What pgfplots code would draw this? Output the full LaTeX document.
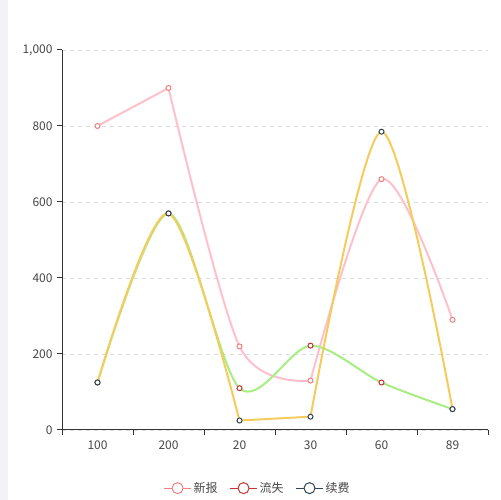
\documentclass[border=0pt]{standalone}
\usepackage{pgfplots}
\pgfplotsset{compat=1.18}
\usepackage{fontspec}
\setmainfont{Noto Sans CJK SC}
\definecolor{txt}{HTML}{464646}
\definecolor{axc}{HTML}{333333}
\definecolor{gridc}{HTML}{DCDCDC}
\definecolor{pinkline}{HTML}{FFC0CB}
\definecolor{pinkmark}{HTML}{F08080}
\definecolor{greenline}{HTML}{A6EE82}
\definecolor{redmark}{HTML}{C23531}
\definecolor{yelline}{HTML}{F5CB5C}
\definecolor{darkmark}{HTML}{2F4554}
\definecolor{strip}{HTML}{F2F2F7}
\pgfplotsset{
  ln/.style={line width=2bp, no markers, forget plot},
  sm/.style={smooth, tension=0.5},
  mk/.style={only marks, mark=*, mark size=2.5bp,
    mark options={draw=#1, fill=white, line width=1bp},
    legend image code/.code={\draw[#1, line width=1bp] (0bp,0bp)--(27bp,0bp);
      \draw[#1, line width=1bp, fill=white] (13.5bp,0bp) circle (5.5bp);}},
}
\begin{document}
\begin{tikzpicture}[x=1bp,y=1bp]
\path[use as bounding box] (0,0) rectangle (500,500);
\fill[strip] (0,0) rectangle (8,500);
\begin{axis}[
  at={(62bp,70bp)}, anchor=south west,
  scale only axis, width=426bp, height=380bp,
  xmin=-0.5, xmax=5.5, ymin=0, ymax=1000,
  axis lines*=left,
  axis line style={axc, line width=1bp},
  xtick={0,1,2,3,4,5},
  xticklabels={100,200,20,30,60,89},
  minor xtick={-0.5,0.5,1.5,2.5,3.5,4.5,5.5},
  major x tick style={draw=none},
  minor x tick style={axc, line width=1bp},
  minor tick length=5bp,
  ytick={0,200,400,600,800,1000},
  y tick style={axc, line width=1bp},
  major tick length=5bp,
  tick align=outside,
  ymajorgrids,
  grid style={gridc, line width=0.8bp, dash pattern=on 4bp off 4bp},
  tick label style={font=\fontsize{12bp}{14bp}\selectfont, text=txt},
  /pgf/number format/assume math mode=true,
  /pgf/number format/1000 sep={,},
  xticklabel style={yshift=-2bp},
  yticklabel style={xshift=-1bp},
  legend style={at={(0.459,-0.153)}, anchor=center, draw=none, fill=none,
    legend columns=3, font=\fontsize{12bp}{14bp}\selectfont, text=txt,
    /tikz/every even column/.append style={column sep=10bp}},
  legend cell align=left,
]
% 新报
\addplot[pinkline, ln] coordinates {(0,800) (1,900)};
\addplot[pinkline, ln, sm] coordinates {(1,900) (2,220) (3,130)};
\addplot[pinkline, ln, sm] coordinates {(3,130) (4,660) (5,290)};
\addplot[mk=pinkmark] coordinates {(0,800) (1,900) (2,220) (3,130) (4,660) (5,290)};
\addlegendentry{新报}
% 流失
\addplot[greenline, ln, sm] coordinates {(0,125) (1,570) (2,110) (3,222) (4,125) (5,55)};
\addplot[mk=redmark] coordinates {(0,125) (1,570) (2,110) (3,222) (4,125) (5,55)};
\addlegendentry{流失}
% 续费
\addplot[yelline, ln, sm] coordinates {(0,125) (1,570) (2,25)};
\addplot[yelline, ln] coordinates {(2,25) (3,35)};
\addplot[yelline, ln, sm] coordinates {(3,35) (4,785) (5,55)};
\addplot[mk=darkmark] coordinates {(0,125) (1,570) (2,25) (3,35) (4,785) (5,55)};
\addlegendentry{续费}
\end{axis}
\end{tikzpicture}
\end{document}
